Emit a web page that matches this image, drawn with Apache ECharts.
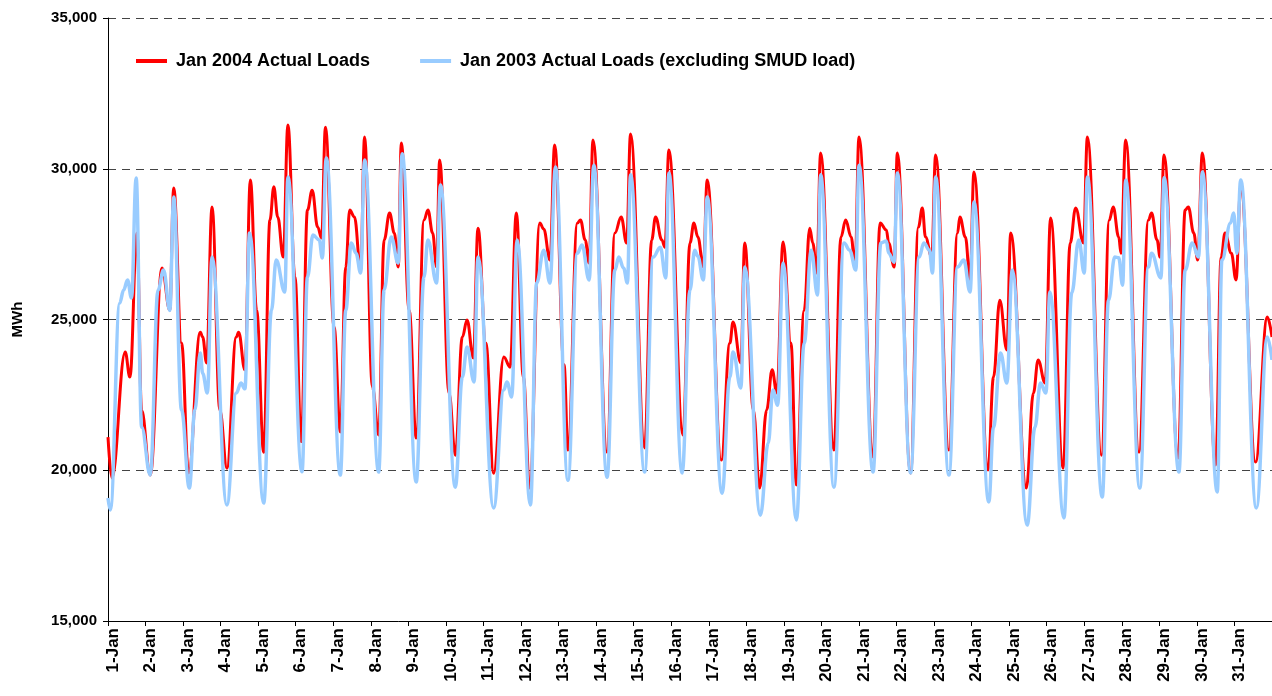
<!DOCTYPE html>
<html>
<head>
<meta charset="utf-8">
<script src="https://cdn.jsdelivr.net/npm/echarts@6/dist/echarts.min.js"></script>
<style>
html, body { margin: 0; padding: 0; background: #fff; }
#chart { width: 1272px; height: 696px; }
</style>
</head>
<body>
<div id="chart"></div>
<script>
// legend names
const seriesNames = ['Jan 2004 Actual Loads', 'Jan 2003 Actual Loads (excluding SMUD load)'];

// one label per day, tick every 24 hours
const dayLabels = ['1-Jan', '2-Jan', '3-Jan', '4-Jan', '5-Jan', '6-Jan', '7-Jan', '8-Jan', '9-Jan', '10-Jan',
  '11-Jan', '12-Jan', '13-Jan', '14-Jan', '15-Jan', '16-Jan', '17-Jan', '18-Jan', '19-Jan', '20-Jan',
  '21-Jan', '22-Jan', '23-Jan', '24-Jan', '25-Jan', '26-Jan', '27-Jan', '28-Jan', '29-Jan', '30-Jan', '31-Jan'];

// [hour of month, MWh]
const jan2004 = [
  [0, 21100], [2.5, 19740], [11, 23920], [14, 23090], [18.5, 27870], [21.5, 21990], [27, 19840],
  [34.5, 26710], [39.5, 25310], [42, 29360], [47, 24220], [51.5, 19910],
  [59, 24580], [60.5, 24420], [63, 23560], [66.5, 28730], [71.5, 21990], [76, 20070],
  [82, 24420], [83.5, 24580], [87.5, 23330], [91, 29630], [95, 25310], [99.5, 20600],
  [103.5, 28300], [106, 29400], [108.5, 28400], [112, 27070], [115, 31450], [119.5, 26410], [123.5, 20950],
  [127.5, 28630], [130.5, 29290], [134, 28070], [136.5, 27700], [139, 31380], [144.5, 24750], [148.5, 21270],
  [152, 26740], [154.5, 28630], [157.5, 28400], [161.5, 26640], [164, 31050], [169, 22760], [173, 21170],
  [176.5, 27640], [180, 28530], [183, 27870], [185.5, 26740], [187.5, 30850], [192.5, 25310], [197, 21070],
  [202, 28300], [204.5, 28630], [207.5, 27870], [210, 26740], [212, 30290], [218, 22560], [222, 20500],
  [226.5, 24420], [229.5, 24980], [233.5, 23720], [236.5, 28030], [241.5, 24220], [246.5, 19900],
  [253, 23760], [257, 23420], [261, 28530], [265.5, 23090], [269.5, 19410],
  [276, 28200], [278.5, 28000], [282.5, 26970], [285.5, 30790], [291.5, 23500], [294, 20670],
  [300, 28200], [302, 28300], [305, 27640], [307.5, 26870], [310, 30950], [319, 20600],
  [324, 27870], [328, 28400], [331.5, 27540], [334, 31150], [343, 20740],
  [347.5, 27640], [350, 28400], [354, 27640], [356, 27400], [358.5, 30620], [367.5, 21170],
  [372, 27540], [374.5, 28200], [377, 27740], [380.5, 26740], [383, 29630], [392, 20340],
  [397.5, 24220], [399.5, 24920], [404.5, 23560], [407, 27540], [412.5, 22000], [416.5, 19410],
  [421, 22000], [424.5, 23330], [427.5, 22560], [431.5, 27570], [436.5, 24220], [440, 19510],
  [445, 25310], [448.5, 28030], [450.5, 27540], [453, 26540], [455.5, 30520], [464, 20670],
  [468.5, 27740], [471.5, 28300], [475, 27740], [477.5, 26740], [480, 31050], [489, 20440],
  [493.5, 28200], [497.5, 27970], [499, 27540], [502.5, 26740], [504.5, 30520], [513, 19910],
  [518, 28070], [520.5, 28700], [522.5, 27740], [526.5, 27070], [529, 30460], [537.5, 20670],
  [543, 27870], [544.5, 28400], [548, 27740], [551, 26310], [553.5, 29890], [562.5, 20010],
  [566, 23090], [570, 25640], [574.5, 23990], [577, 27870], [587, 19410],
  [591.5, 22560], [594.5, 23660], [599, 22890], [602.5, 28370], [610.5, 20070],
  [615, 27540], [618.5, 28700], [623.5, 27540], [626, 31050], [635, 20500],
  [640, 28300], [642.5, 28730], [646, 27740], [647.5, 27200], [650.5, 30950], [659, 20600],
  [665, 28300], [667, 28530], [670.5, 27640], [672.5, 27070], [675, 30460], [684, 20410],
  [688.5, 28630], [690.5, 28730], [694, 27870], [696.5, 26970], [699.5, 30520], [708, 20170],
  [711.5, 27070], [714, 27870], [718, 27200], [721, 26310], [724, 29400], [733.5, 20270],
  [741, 25080], [744, 24420]
];

const jan2003 = [
  [0, 19080], [1.5, 18680], [7.5, 25550], [10, 25980], [12.5, 26310], [15, 25710], [18, 29690], [21.5, 21430], [27, 19840],
  [32, 25980], [35.5, 26640], [39.5, 25300], [42, 29060], [47, 22000], [52, 19410],
  [55.5, 22000], [59, 23890], [60.5, 23220], [63.5, 22560], [66.5, 27070], [76, 18850],
  [82, 22560], [85, 22890], [87.5, 22700], [90.5, 27870], [99.5, 18910],
  [104.5, 25310], [107.5, 26970], [113, 25910], [115, 29730], [124, 19950],
  [127.5, 26410], [131, 27800], [135, 27640], [137, 27040], [139.5, 30360], [148.5, 19840],
  [152, 25310], [155.5, 27540], [158.5, 27200], [161.5, 26540], [164, 30290], [173, 19940],
  [176.5, 25980], [181, 27740], [185.5, 26870], [188, 30500], [197, 19610],
  [202, 26410], [204.5, 27640], [210, 26210], [212.5, 29460], [222, 19440],
  [226.5, 23090], [229.5, 24090], [234, 22930], [236.5, 27070], [246.5, 18750],
  [253, 22660], [255, 22930], [258, 22430], [261.5, 27640], [270, 18850],
  [274, 26210], [278.5, 27300], [282.5, 26210], [286, 30060], [294, 19670],
  [300, 27200], [303, 27470], [307.5, 26310], [310.5, 30120], [319, 19770],
  [324, 26640], [326.5, 27070], [329.5, 26710], [332, 26210], [334, 29800], [343, 19940],
  [348.5, 27070], [353, 27400], [356.5, 26380], [358.5, 29860], [367, 19910],
  [372, 25980], [375, 27300], [377, 27100], [380.5, 26310], [383, 29060], [392.5, 19240],
  [397.5, 23090], [399.5, 23920], [404.5, 22730], [407, 26740], [417, 18510],
  [422, 20900], [425, 22660], [428, 22160], [431.5, 26870], [440, 18350],
  [445, 24220], [449.5, 27300], [453.5, 25810], [455.5, 29800], [464, 19440],
  [470.5, 27540], [474, 27300], [478, 26640], [480, 30120], [489, 19940],
  [494, 27540], [497.5, 27600], [499, 27200], [502.5, 26900], [504.5, 29860], [513, 19910],
  [518.5, 27070], [521.5, 27540], [525, 27300], [527, 26540], [529, 29730], [537.5, 19840],
  [543, 26740], [547, 26970], [551, 25910], [553.5, 28900], [563, 18950],
  [566, 21430], [570.5, 23890], [574.5, 22890], [578, 26640], [587.5, 18180],
  [592.5, 21430], [596, 22890], [599.5, 22560], [602, 25910], [611, 18420],
  [616, 25880], [620.5, 27640], [624, 26540], [626, 29730], [635.5, 19110],
  [639.5, 25640], [643.5, 27070], [646, 27050], [648.5, 26140], [650.5, 29630], [659.5, 19410],
  [665, 26740], [667, 27200], [673, 26380], [675, 29700], [684.5, 19940],
  [688.5, 26640], [693, 27540], [697, 27070], [699.5, 29890], [709, 19280],
  [712, 26970], [717.5, 28200], [719.5, 28530], [721.5, 27200], [724, 29630], [734, 18750],
  [741, 24420], [744, 23660]
];

const font = '"Liberation Sans", Arial, sans-serif';
const chart = echarts.init(document.getElementById('chart'), null, { renderer: 'canvas' });

chart.setOption({
  animation: false,
  backgroundColor: '#fff',
  grid: { left: 108, right: 0, top: 18, bottom: 75, containLabel: false, outerBoundsMode: 'none' },
  legend: {
    left: 131,
    top: 47,
    itemWidth: 31,
    itemHeight: 4,
    itemGap: 50,
    icon: 'rect',
    textStyle: { fontFamily: font, fontWeight: 'bold', fontSize: 18, color: '#000', padding: [0, 0, 0, 4] },
    data: seriesNames
  },
  xAxis: {
    type: 'value',
    min: 0,
    max: 744,
    interval: 24,
    axisLine: { show: true, lineStyle: { color: '#000', width: 1 } },
    axisTick: { show: true, length: 5, inside: false, lineStyle: { color: '#000' } },
    splitLine: { show: false },
    axisLabel: {
      rotate: 90,
      margin: 7,
      verticalAlign: 'top',
      lineHeight: 10,
      fontFamily: font,
      fontWeight: 'bold',
      fontSize: 17,
      color: '#000',
      showMaxLabel: false,
      formatter: function (v) { return dayLabels[v / 24] || ''; }
    }
  },
  yAxis: {
    type: 'value',
    min: 15000,
    max: 35000,
    interval: 5000,
    name: 'MWh',
    nameLocation: 'middle',
    nameGap: 83,
    nameTextStyle: { fontFamily: font, fontWeight: 'bold', fontSize: 15, color: '#000' },
    axisLine: { show: true, lineStyle: { color: '#000', width: 1 } },
    axisTick: { show: true, length: 5, lineStyle: { color: '#000' } },
    splitLine: { show: true, lineStyle: { color: '#444', width: 1, type: [8, 6] } },
    axisLabel: {
      margin: 11,
      fontFamily: font,
      fontWeight: 'bold',
      fontSize: 15,
      color: '#000',
      formatter: function (v) { return v.toLocaleString('en-US'); }
    }
  },
  series: [
    {
      name: seriesNames[0],
      type: 'line',
      data: jan2004,
      showSymbol: false,
      smooth: 0.4,
      smoothMonotone: 'x',
      color: '#ff0000',
      lineStyle: { width: 3, color: '#ff0000' },
      z: 2
    },
    {
      name: seriesNames[1],
      type: 'line',
      data: jan2003,
      showSymbol: false,
      smooth: 0.4,
      smoothMonotone: 'x',
      color: '#99ccff',
      lineStyle: { width: 3.5, color: '#99ccff' },
      z: 3
    }
  ]
});
</script>
</body>
</html>
